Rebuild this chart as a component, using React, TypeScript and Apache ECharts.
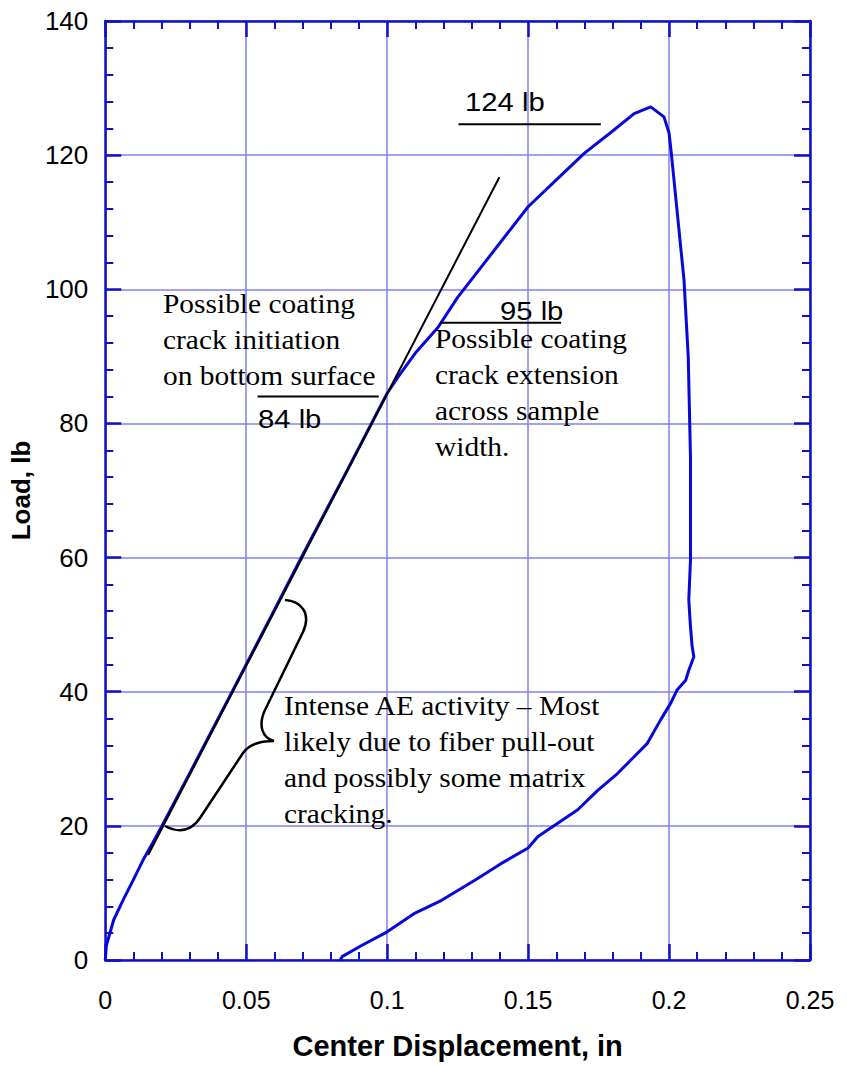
import React, { useEffect, useRef } from "react";
import * as echarts from "echarts";

// Axis ranges / ticks
const xMin = 0;
const xMax = 0.25;
const xInterval = 0.05;
const yMin = 0;
const yMax = 140;
const yInterval = 20;

// Load–displacement curve
const displacement = [
  0, 0.0004, 0.003, 0.0064, 0.0099, 0.0134, 0.017, 0.0201, 0.03, 0.045,
  0.06, 0.07, 0.0852, 0.1, 0.104, 0.11, 0.118, 0.125, 0.135, 0.15,
  0.16, 0.17, 0.18, 0.1876, 0.1935, 0.1982, 0.2, 0.2008, 0.2053, 0.2068,
  0.2076, 0.2076, 0.207, 0.2076, 0.2082, 0.2088, 0.207, 0.2059, 0.2029, 0.2006,
  0.197, 0.1923, 0.1876, 0.1817, 0.1747, 0.1676, 0.1605, 0.1535, 0.15, 0.1405,
  0.1311, 0.1193, 0.1099, 0.1, 0.0911, 0.084, 0.0834,
];
const load = [
  0, 2.2, 6, 9, 11.9, 14.9, 17.6, 20, 27.9, 40,
  52.2, 60.4, 72.5, 84.5, 87, 90.5, 94.3, 98.8, 104.2, 112.3,
  116.3, 120.3, 123.6, 126.2, 127.2, 125.7, 123.3, 120.3, 101.4, 90,
  75, 59.6, 53.7, 49.7, 46.7, 45.2, 43.2, 41.7, 40.3, 38.3,
  35.8, 32.3, 30.3, 27.8, 25.3, 22.4, 20.4, 18.4, 16.7, 14.4,
  11.9, 8.9, 7.0, 4.2, 2.2, 0.5, 0,
];

// Straight (linear-elastic) reference line
const refDisp = [0.0152, 0.1398];
const refLoad = [15.65, 116.7];

// Level marker lines
const levelLoads = [84, 95, 124.6];
const levelStart = [0.054, 0.1187, 0.1253];
const levelEnd = [0.097, 0.1617, 0.1758];
const levelLabels = ["84 lb", "95 lb", "124 lb"];

// Annotation texts
const noteInitiation = ["Possible coating", "crack initiation", "on bottom surface"];
const noteExtension = ["Possible coating", "crack extension", "across sample", "width."];
const noteAE = [
  "Intense AE activity \u2013 Most",
  "likely due to fiber pull-out",
  "and possibly some matrix",
  "cracking.",
];

const braceD =
  "M 285 600 C 300 601 312 612 303 632 L 265 710 C 258 725 262 738 274 741 " +
  "C 262 741 250 743 243 753 L 200 818 C 192 830 180 834 165 826";
echarts.graphic.registerShape("brace", echarts.graphic.extendPath(braceD, {}));

const AXIS_BLUE = "#1010c8";
const GRID_BLUE = "#8080f0";
const CURVE_BLUE = "#0808d8";
const SANS = "'Liberation Sans', Arial, Helvetica, sans-serif";
const SERIF = "'Liberation Serif', 'Times New Roman', serif";

function fmt(v: number) {
  return String(+v.toFixed(2));
}

export default function App() {
  const ref = useRef<HTMLDivElement>(null);

  useEffect(() => {
    document.body.style.margin = "0";
    if (!ref.current) return;
    const chart = echarts.init(ref.current, undefined, { renderer: "svg" });

    const curve = displacement.map((d, i) => [d, load[i]]);
    const refLine = refDisp.map((d, i) => [d, refLoad[i]]);

    const tickCommon = {
      axisLine: { show: true, onZero: false, lineStyle: { color: AXIS_BLUE, width: 2.5 } },
      axisTick: { show: true, inside: true, length: 16, lineStyle: { color: AXIS_BLUE, width: 2.5 } },
      minorTick: { show: true, splitNumber: 5, length: 8, lineStyle: { color: AXIS_BLUE, width: 2 } },
    };

    const levelSeries = levelLoads.map((v, i) => ({
      type: "line",
      data: [
        [levelStart[i], v],
        [levelEnd[i], v],
      ],
      showSymbol: false,
      lineStyle: { color: "#000", width: 2 },
      silent: true,
      z: 4,
    }));

    const serifText = (lines: string[], x: number, top: number) => ({
      type: "text",
      x,
      y: top,
      scaleX: 1.09,
      style: {
        text: lines.join("\n"),
        fontFamily: SERIF,
        fontSize: 27,
        lineHeight: 36,
        fill: "#000",
        align: "left",
        verticalAlign: "top",
        textAlign: "left",
        textVerticalAlign: "top",
      },
      z: 10,
    });

    const sansText = (text: string, x: number, y: number) => ({
      type: "text",
      x,
      y,
      scaleX: 1.17,
      style: {
        text,
        fontFamily: SANS,
        fontSize: 25,
        fill: "#000",
        align: "left",
        verticalAlign: "middle",
        textAlign: "left",
        textVerticalAlign: "middle",
      },
      z: 10,
    });

    chart.setOption({
      animation: false,
      backgroundColor: "#fff",
      grid: { left: 102, top: 21, right: 37, bottom: 106, containLabel: false },
      xAxis: [
        {
          type: "value",
          min: xMin,
          max: xMax,
          interval: xInterval,
          position: "bottom",
          ...tickCommon,
          splitLine: { show: true, lineStyle: { color: GRID_BLUE, width: 1.5 } },
          axisLabel: {
            formatter: (v: number) => fmt(v),
            fontFamily: SANS,
            fontSize: 25,
            color: "#000",
            margin: 27,
          },
          name: "Center Displacement, in",
          nameLocation: "middle",
          nameGap: 71,
          nameTextStyle: { fontFamily: SANS, fontSize: 29, fontWeight: "bold", color: "#000" },
        },
        {
          type: "value",
          min: xMin,
          max: xMax,
          interval: xInterval,
          position: "top",
          ...tickCommon,
          splitLine: { show: false },
          axisLabel: { show: false },
        },
      ],
      yAxis: [
        {
          type: "value",
          min: yMin,
          max: yMax,
          interval: yInterval,
          position: "left",
          ...tickCommon,
          splitLine: { show: true, lineStyle: { color: GRID_BLUE, width: 1.5 } },
          axisLabel: { fontFamily: SANS, fontSize: 26, color: "#000", margin: 17 },
          name: "Load, lb",
          nameLocation: "middle",
          nameGap: 66,
          nameTextStyle: { fontFamily: SANS, fontSize: 26, fontWeight: "bold", color: "#000" },
        },
        {
          type: "value",
          min: yMin,
          max: yMax,
          interval: yInterval,
          position: "right",
          ...tickCommon,
          splitLine: { show: false },
          axisLabel: { show: false },
        },
      ],
      series: [
        {
          type: "line",
          data: curve,
          showSymbol: false,
          lineStyle: { color: CURVE_BLUE, width: 3 },
          z: 3,
        },
        {
          type: "line",
          data: refLine,
          showSymbol: false,
          lineStyle: { color: "#000", width: 2 },
          z: 4,
        },
        ...levelSeries,
      ],
      graphic: [
        serifText(noteInitiation, 163, 286),
        serifText(noteExtension, 435, 321),
        serifText(noteAE, 284, 688),
        sansText(levelLabels[0], 258, 419),
        sansText(levelLabels[1], 500, 311),
        sansText(levelLabels[2], 465, 102),
        {
          type: "brace",
          x: 0,
          y: 0,
          scaleX: 1,
          scaleY: 1,
          style: { stroke: "#000", lineWidth: 2.5, fill: null },
          z: 10,
        },
      ],
    });

    return () => chart.dispose();
  }, []);

  return <div ref={ref} style={{ width: 847, height: 1066 }} />;
}
